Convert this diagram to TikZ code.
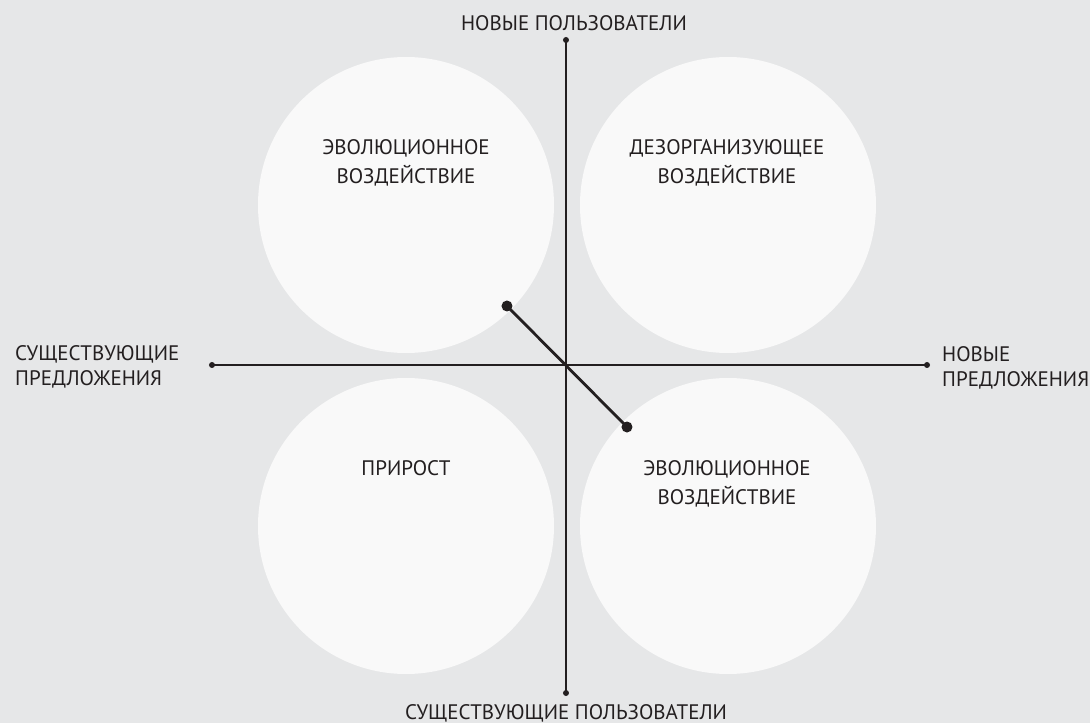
\documentclass[tikz,border=0pt]{standalone}
\usepackage{fontspec}
\setmainfont{PT Sans}
\begin{document}
\begin{tikzpicture}[x=1pt, y=1pt,
    bubble/.style={circle, fill=fillColourBubble, minimum size=296pt, inner sep=0pt},
    bubbleText/.style={anchor=north, align=center, inner sep=0pt, text=textColour, font=\fontsize{21}{28.5}\selectfont},
    axisText/.style={inner sep=0pt, text=textColour, font=\fontsize{21}{25}\selectfont}]
    \definecolor{backColour}{HTML}{E6E7E8}
    \definecolor{fillColourBubble}{HTML}{F9F9F9}
    \definecolor{lineColour}{HTML}{231F20}
    \definecolor{textColour}{HTML}{231F20}

    \def\bubbleOffset{160}

    % Background
    \fill[backColour] (-566,-358) rectangle (524,365);
    \useasboundingbox (-566,-358) rectangle (524,365);

    % Draw bubbles
    \node[bubble] (evoTop) at (-\bubbleOffset,160) {};
    \node[bubble] (disrupt) at (162,160) {};
    \node[bubble] (growth) at (-\bubbleOffset,-161) {};
    \node[bubble] (evoBottom) at (162,-161) {};

    % Ends of the axes
    \coordinate (O) at (0,0);
    \coordinate (top) at (0,325);
    \coordinate (bottom) at (0,-328);
    \coordinate (left) at (-354,0);
    \coordinate (right) at (361,0);

    % Draw axes
    \draw[lineColour, line width=1.4pt] (top) -- (bottom);
    \draw[lineColour, line width=1.4pt] (left) -- (right);
    \foreach \p in {top,bottom,left,right}
        \fill[lineColour] (\p) circle (3pt);

    % Diagonal between the two evolutionary bubbles
    \coordinate (P) at (-59,59);
    \coordinate (Q) at (61,-62);
    \draw[lineColour, line width=2.8pt] (P) -- (Q);
    \fill[lineColour] (P) circle (5.5pt);
    \fill[lineColour] (Q) circle (5.5pt);

    % Bubble labels
    \node[bubbleText] (evoTopText) at (-160,225.5) {ЭВОЛЮЦИОННОЕ\\ВОЗДЕЙСТВИЕ};
    \node[bubbleText] (disruptText) at (161,225.5) {ДЕЗОРГАНИЗУЮЩЕЕ\\ВОЗДЕЙСТВИЕ};
    \node[bubbleText] (growthText) at (-160,-95) {ПРИРОСТ};
    \node[bubbleText] (evoBottomText) at (161,-95.5) {ЭВОЛЮЦИОННОЕ\\ВОЗДЕЙСТВИЕ};

    % Axis labels
    \node[axisText, anchor=north] (newUsers) at (8,350) {НОВЫЕ ПОЛЬЗОВАТЕЛИ};
    \node[axisText, anchor=north] (oldUsers) at (0,-339) {СУЩЕСТВУЮЩИЕ ПОЛЬЗОВАТЕЛИ};
    \node[axisText, anchor=north west, align=left] (oldOffers) at (-551,20) {СУЩЕСТВУЮЩИЕ\\ПРЕДЛОЖЕНИЯ};
    \node[axisText, anchor=north west, align=left] (newOffers) at (376,18.5) {НОВЫЕ\\ПРЕДЛОЖЕНИЯ};

\end{tikzpicture}
\end{document}
